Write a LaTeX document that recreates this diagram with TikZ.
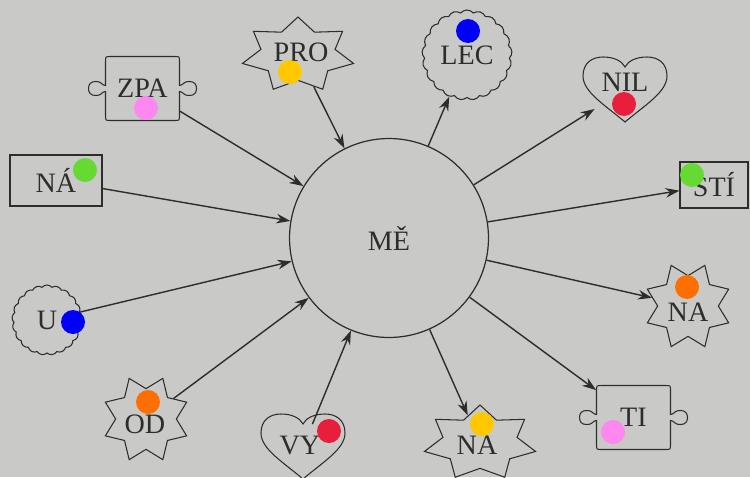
\documentclass[tikz,border=0pt]{standalone}
\usepackage{fontspec}
\setmainfont{Liberation Serif}
\usetikzlibrary{shapes.geometric,shapes.symbols,arrows.meta}

\definecolor{bgc}{RGB}{201,201,199}
\definecolor{ink}{RGB}{45,45,45}
\definecolor{dpink}{RGB}{255,136,240}
\definecolor{dyellow}{RGB}{255,200,0}
\definecolor{dblue}{RGB}{0,0,250}
\definecolor{dred}{RGB}{232,30,60}
\definecolor{dgreen}{RGB}{100,218,50}
\definecolor{dorange}{RGB}{255,110,0}

% puzzle piece round a node
\newcommand{\puzzle}[1]{%
  \draw[ink, line width=0.6pt, shift={(#1)}]
    (-32,-32) -- (32,-32) .. controls (37,-32) .. (37,-27) -- (37,-3)
    .. controls (41,-3) and (40,-7) .. (47,-7) .. controls (52,-7) and (54,-4) .. (54,0)
    .. controls (54,4) and (52,7) .. (47,7) .. controls (40,7) and (41,3) .. (37,3)
    -- (37,27) .. controls (37,32) .. (32,32) -- (-32,32) .. controls (-37,32) .. (-37,27)
    -- (-37,3) .. controls (-41,3) and (-40,7) .. (-47,7) .. controls (-52,7) and (-54,4) .. (-54,0)
    .. controls (-54,-4) and (-52,-7) .. (-47,-7) .. controls (-40,-7) and (-41,-3) .. (-37,-3)
    -- (-37,-27) .. controls (-37,-32) .. (-32,-32) -- cycle;}

% heart round a node
\newcommand{\heart}[1]{%
  \draw[ink, line width=0.6pt, shift={(#1)}]
    (0,32) .. controls (-20,15) and (-42,2) .. (-42,-14) .. controls (-42,-27) and (-33,-33) .. (-22,-33)
    .. controls (-11,-33) and (-3,-29) .. (0,-23) .. controls (3,-29) and (11,-33) .. (22,-33)
    .. controls (33,-33) and (42,-27) .. (42,-14) .. controls (42,2) and (20,15) .. (0,32) -- cycle;}

\begin{document}
\begin{tikzpicture}[x=0.02cm, y=-0.02cm,
    every node/.style={font=\fontsize{16}{18}\selectfont, text=ink},
    outline/.style={draw=ink, line width=0.6pt},
    star7/.style={outline, star, star points=7, star point ratio=1.5, minimum size=1.52cm, inner sep=0pt, xscale=1.5},
    star8/.style={outline, star, star points=8, star point ratio=1.45, shape border rotate=22.5, minimum size=1.76cm, inner sep=0pt},
    puff/.style={outline, cloud, cloud puffs=21, cloud puff arc=100, aspect=1, inner sep=0pt},
    box/.style={outline, rectangle, inner sep=0pt},
    hbox/.style={minimum width=1.2cm, minimum height=0.9cm, inner sep=0pt},
    pbox/.style={minimum width=1.48cm, minimum height=1.28cm, inner sep=0pt},
    arr/.style={ink, line width=0.8pt, -{Stealth[length=8pt, width=5.5pt]}},
    dot/.style={circle, fill=#1, minimum size=0.48cm, inner sep=0pt}]

    \useasboundingbox (0,0) rectangle (750,477);
    \clip (0,0) rectangle (750,477);
    \fill[bgc] (0,0) rectangle (750,477);

    % Centro
    \node[circle, outline, line width=0.7pt, minimum size=3.98cm] (me) at (389,238) {MĚ};

    % Forme
    \node[pbox] (zpa) at (142.5,88.5) {ZPA};
    \puzzle{zpa.center}
    \node[star7] (pro) at (298,55) {};
    \node (pro-t) at (301,52) {PRO};
    \node[puff, minimum size=1.8cm] (lec) at (467,55) {LEC};
    \node[hbox] (nil) at (625,90) {};
    \heart{nil.center}
    \node (nil-t) at (625,82) {NIL};
    \node[box, minimum width=1.36cm, minimum height=0.92cm] (sti) at (714,185) {STÍ};
    \node[star8] (na1) at (688,306) {};
    \node (na1-t) at (688,312) {NA};
    \node[pbox] (ti) at (633.5,417.5) {TI};
    \puzzle{ti.center}
    \node[star7] (na2) at (480,443) {};
    \node (na2-t) at (477,445) {NA};
    \node[hbox] (vy) at (303,447) {};
    \heart{vy.center}
    \node (vy-t) at (300,446) {VY};
    \node[star8] (od) at (146,419) {};
    \node (od-t) at (145,424) {OD};
    \node[puff, minimum size=1.4cm] (u) at (47,320) {U};
    \node[box, minimum width=1.84cm, minimum height=1.02cm] (naa) at (56,180.5) {NÁ};

    % Frecce
    \draw[arr] (zpa) -- (me);
    \draw[arr] (pro) -- (me);
    \draw[arr] (naa) -- (me);
    \draw[arr] (u) -- (me);
    \draw[arr] (od) -- (me);
    \draw[arr] (vy) -- (me);
    \draw[arr] (me) -- (lec);
    \draw[arr] (me) -- (nil);
    \draw[arr] (me) -- (sti);
    \draw[arr] (me) -- (na1);
    \draw[arr] (me) -- (ti);
    \draw[arr] (me) -- (na2);

    % Punti
    \node[dot=dpink] (d1) at (146,108) {};
    \node[dot=dyellow] (d2) at (290,72) {};
    \node[dot=dblue] (d3) at (468,31) {};
    \node[dot=dred] (d4) at (624,104) {};
    \node[dot=dgreen] (d5) at (692,175) {};
    \node[dot=dorange] (d6) at (687,287) {};
    \node[dot=dpink] (d7) at (613,432) {};
    \node[dot=dyellow] (d8) at (482,424) {};
    \node[dot=dred] (d9) at (329,431) {};
    \node[dot=dorange] (d10) at (148,402) {};
    \node[dot=dblue] (d11) at (73,322) {};
    \node[dot=dgreen] (d12) at (85,170) {};
\end{tikzpicture}
\end{document}
